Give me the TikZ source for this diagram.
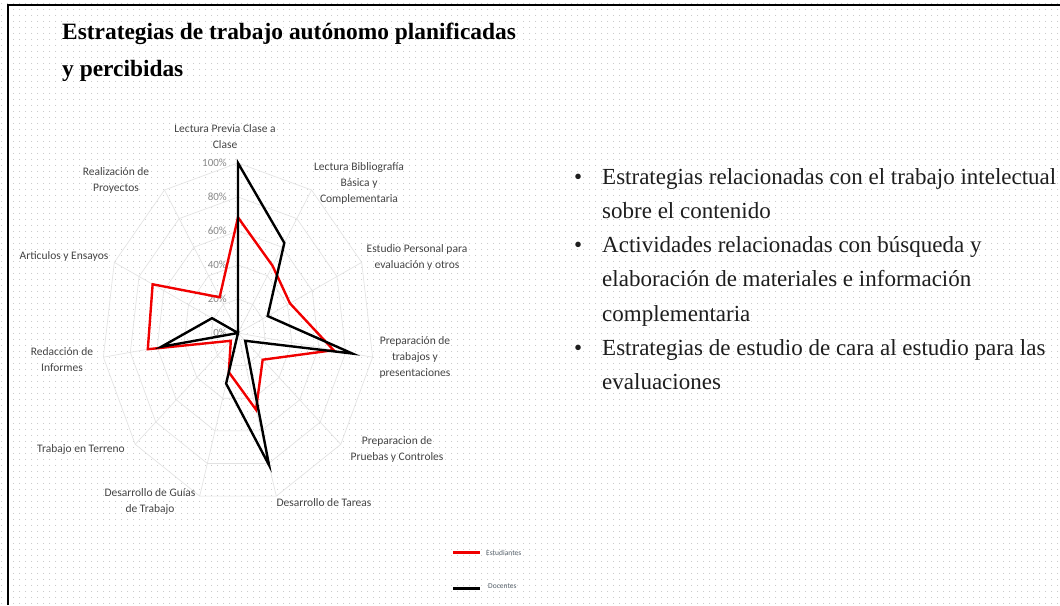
\documentclass[tikz,border=0pt]{standalone}
\usepackage{fontspec}
\setmainfont{Liberation Serif}
\newfontfamily\calib{Carlito}
\usetikzlibrary{patterns.meta}
\definecolor{labgray}{HTML}{444444}
\definecolor{pctgray}{HTML}{8A8A8A}
\definecolor{gridgray}{HTML}{E2E2E2}
\definecolor{txtdark}{HTML}{1E1E1E}
\definecolor{legtxt}{HTML}{55606A}
\definecolor{stured}{HTML}{F00000}
\tikzdeclarepattern{name=bgdots, type=uncolored,
  bounding box={(0pt,0pt) and (6pt,6pt)}, tile size={(6pt,6pt)},
  code={\fill (3pt,3pt) circle (0.5pt);}}
\tikzset{
  axlabel/.style={font=\calib\fontsize{11.5}{16}\selectfont, text=labgray, align=center, inner sep=0pt},
  pctlabel/.style={font=\calib\fontsize{11}{13}\selectfont, text=pctgray, anchor=east, inner sep=0pt},
  gridline/.style={draw=gridgray, line width=0.6pt},
  serieslinered/.style={draw=stured, line width=2.4pt, line join=miter},
  serieslineblack/.style={draw=black, line width=2.4pt, line join=miter},
  titletext/.style={font=\bfseries\fontsize{23.4}{28}\selectfont, anchor=base west, inner sep=0pt},
  bullettext/.style={font=\fontsize{23}{28}\selectfont, text=txtdark, anchor=base west, inner sep=0pt},
  legtext/.style={font=\calib\fontsize{7.5}{9}\selectfont, text=legtxt, anchor=west, inner sep=0pt}
}
\begin{document}
\begin{tikzpicture}[x=1pt,y=-1pt]
\useasboundingbox (0,0) rectangle (1060,605);
\fill[white] (0,0) rectangle (1060,605);
\fill[pattern=bgdots, pattern color=gray!55] (0,0) rectangle (1060,605);
\draw[line width=2pt] (8,605) -- (8,5) -- (1060,5);

% title
\node[titletext] (t1) at (62,39) {Estrategias de trabajo autónomo planificadas};
\node[titletext] (t2) at (62,76) {y percibidas};

% radar chart
\def\cx{238}\def\cy{333}\def\rx{136}\def\ry{170}
\foreach \p in {0.2,0.4,0.6,0.8,1.0}{
  \draw[gridline] ({\cx},{\cy-\p*\ry}) \foreach \k in {1,...,10}{ -- ({\cx+\p*\rx*sin(\k*360/11)},{\cy-\p*\ry*cos(\k*360/11)}) } -- cycle;
}
\coordinate (ctr) at (\cx,\cy);
\foreach \k in {0,...,10}{
  \coordinate (ax\k) at ({\cx+\rx*sin(\k*360/11)},{\cy-\ry*cos(\k*360/11)});
  \draw[gridline] (ctr) -- (ax\k);
}
\foreach \v [count=\i from 0] in {0,20,40,60,80,100}{
  \node[pctlabel] (pct\i) at (227,{\cy-\v/100*\ry}) {\v\%};
}
% data
\foreach \v [count=\k from 0] in {0.68,0.47,0.42,0.71,0.24,0.47,0.24,0.07,0.67,0.69,0.25}{
  \coordinate (s\k) at ({\cx+\v*\rx*sin(\k*360/11)},{\cy-\v*\ry*cos(\k*360/11)});
}
\foreach \v [count=\k from 0] in {1.00,0.63,0.24,0.85,0.07,0.81,0.31,0.0,0.57,0.21,0.0}{
  \coordinate (d\k) at ({\cx+\v*\rx*sin(\k*360/11)},{\cy-\v*\ry*cos(\k*360/11)});
}
\draw[serieslinered] (s0) -- (s1) -- (s2) -- (s3) -- (s4) -- (s5) -- (s6) -- (s7) -- (s8) -- (s9) -- (s10) -- cycle;
\draw[serieslineblack] (d0) -- (d1) -- (d2) -- (d3) -- (d4) -- (d5) -- (d6) -- (d7) -- (d8) -- (d9) -- (d10) -- cycle;

% axis labels
\node[axlabel] (l0) at (225,137) {Lectura Previa Clase a\\Clase};
\node[axlabel] (l1) at (359,183) {Lectura Bibliografía\\Básica y\\Complementaria};
\node[axlabel] (l2) at (417,257) {Estudio Personal para\\evaluación y otros};
\node[axlabel] (l3) at (415,357) {Preparación de\\trabajos y\\presentaciones};
\node[axlabel] (l4) at (397,449) {Preparacion de\\Pruebas y Controles};
\node[axlabel] (l5) at (324,503) {Desarrollo de Tareas};
\node[axlabel] (l6) at (150,501) {Desarrollo de Guías\\de Trabajo};
\node[axlabel] (l7) at (81,449) {Trabajo en Terreno};
\node[axlabel] (l8) at (62,360) {Redacción de\\Informes};
\node[axlabel] (l9) at (64,256) {Articulos y Ensayos};
\node[axlabel] (l10) at (116,180) {Realización de\\Proyectos};

% legend
\coordinate (lr1) at (453,552); \coordinate (lr2) at (480,552);
\coordinate (lb1) at (453,588); \coordinate (lb2) at (480,588);
\draw[stured, line width=3pt] (lr1) -- (lr2);
\draw[black, line width=3pt] (lb1) -- (lb2);
\node[legtext] (leg1) at (486,553) {Estudiantes};
\node[legtext] (leg2) at (488,586) {Docentes};

% bullets
\foreach \y in {184,252.6,355.5}{
  \node[bullettext] at (574,\y) {•};
}
\node[bullettext] (b1) at (602,184) {Estrategias relacionadas con el trabajo intelectual};
\node[bullettext] (b2) at (602,218.3) {sobre el contenido};
\node[bullettext] (b3) at (602,252.6) {Actividades relacionadas con búsqueda y};
\node[bullettext] (b4) at (602,286.9) {elaboración de materiales e información};
\node[bullettext] (b5) at (602,321.2) {complementaria};
\node[bullettext] (b6) at (602,355.5) {Estrategias de estudio de cara al estudio para las};
\node[bullettext] (b7) at (602,389.8) {evaluaciones};
\end{tikzpicture}
\end{document}
